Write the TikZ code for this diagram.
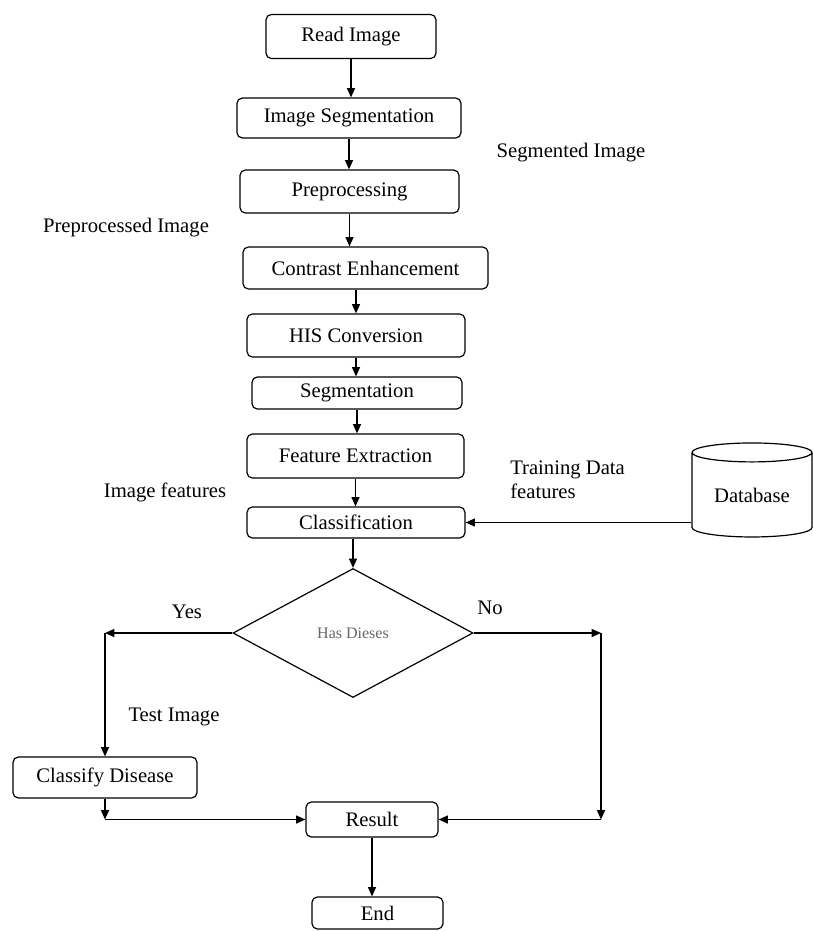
\documentclass[tikz,border=0pt]{standalone}
\usepackage{fontspec}
\setmainfont{Liberation Serif}
\usetikzlibrary{arrows.meta,shapes.geometric}
\tikzset{>={Triangle[length=7pt,width=6pt]}}

\begin{document}
\begin{tikzpicture}[x=0.75pt,y=-0.75pt,
		procbox/.style = {draw, rounded corners=4pt, line width=0.9pt,
			inner sep=0pt, font=\fontsize{15.5}{18}\selectfont},
		lbl/.style = {font=\fontsize{15.5}{18}\selectfont, inner sep=0pt},
		flow/.style = {->, line width=1pt},
	]
	\useasboundingbox (0,0) rectangle (813,931);
	% main column
	\node[procbox, minimum width=127.5pt, minimum height=33pt] (read) at (351,36.5) {Read Image};
	\node[procbox, minimum width=168pt, minimum height=30pt] (imseg) at (349,118) {Image Segmentation};
	\node[procbox, minimum width=164.25pt, minimum height=32.25pt] (pre) at (349.5,191.5) {Preprocessing};
	\node[procbox, minimum width=183.75pt, minimum height=31.5pt] (contrast) at (365.5,268) {Contrast Enhancement};
	\node[procbox, minimum width=163.5pt, minimum height=32.25pt] (his) at (356,335.5) {HIS Conversion};
	\node[procbox, minimum width=157.5pt, minimum height=24pt] (seg) at (357,393) {Segmentation};
	\node[procbox, minimum width=162.75pt, minimum height=33pt] (feat) at (355.5,456) {Feature Extraction};
	\node[procbox, minimum width=163.5pt, minimum height=23.25pt] (class) at (356,522.5) {Classification};
	\node[draw, diamond, line width=0.9pt, inner sep=0pt, aspect=1.86,
		minimum width=180pt, minimum height=96.75pt, text=black!60,
		font=\fontsize{12}{14}\selectfont] (dia) at (353,633) {Has Dieses};
	\node[procbox, minimum width=138pt, minimum height=30.75pt] (cd) at (105,777.5) {Classify Disease};
	\node[procbox, minimum width=99pt, minimum height=26.25pt] (res) at (372,819.5) {Result};
	\node[procbox, minimum width=98.25pt, minimum height=24pt] (endb) at (377.5,913) {End};
	\node[draw, cylinder, shape border rotate=90, aspect=0.25, line width=0.9pt,
		minimum height=70.5pt, minimum width=90pt, inner sep=0pt,
		font=\fontsize{15.5}{18}\selectfont] (db) at (752,495) {Database};
	% free ends
	\coordinate (noR) at (601,633);
	\coordinate (yesL) at (105,633);
	\coordinate (noB) at (noR |- res.east);
	\coordinate (cdJ) at (cd.south |- res.west);
	% labels
	\node[lbl] (segimg) at (571,153) {Segmented Image};
	\node[lbl] (preimg) at (126,228) {Preprocessed Image};
	\node[lbl, anchor=west, align=left] (train) at (510,480) {Training Data\\features};
	\node[lbl] (imgfeat) at (165,492) {Image features};
	\node[lbl] (yes) at (187,612) {Yes};
	\node[lbl] (no) at (490,608) {No};
	\node[lbl] (test) at (174,717) {Test Image};
	% connectors
	\draw[flow] (read.south) -- (read.south |- imseg.north);
	\draw[flow] (imseg.south) -- (imseg.south |- pre.north);
	\draw[flow] (pre.south) -- (pre.south |- contrast.north);
	\draw[flow] (his.north |- contrast.south) -- (his.north);
	\draw[flow] (his.south) -- (his.south |- seg.north);
	\draw[flow] (seg.south) -- (seg.south |- feat.north);
	\draw[flow] (feat.south) -- (feat.south |- class.north);
	\draw[flow] (dia.north |- class.south) -- (dia.north);
	\draw[flow] (db.west |- class.east) -- (class.east);
	\draw[flow] (dia.east) -- (noR);
	\draw[flow] (noR) -- (noB);
	\draw[flow] (noB) -- (res.east);
	\draw[flow] (dia.west) -- (yesL);
	\draw[flow] (yesL) -- (cd.north);
	\draw[flow] (cd.south) -- (cdJ);
	\draw[flow] (cdJ) -- (res.west);
	\draw[flow] (res.south) -- (res.south |- endb.north);
\end{tikzpicture}
\end{document}
